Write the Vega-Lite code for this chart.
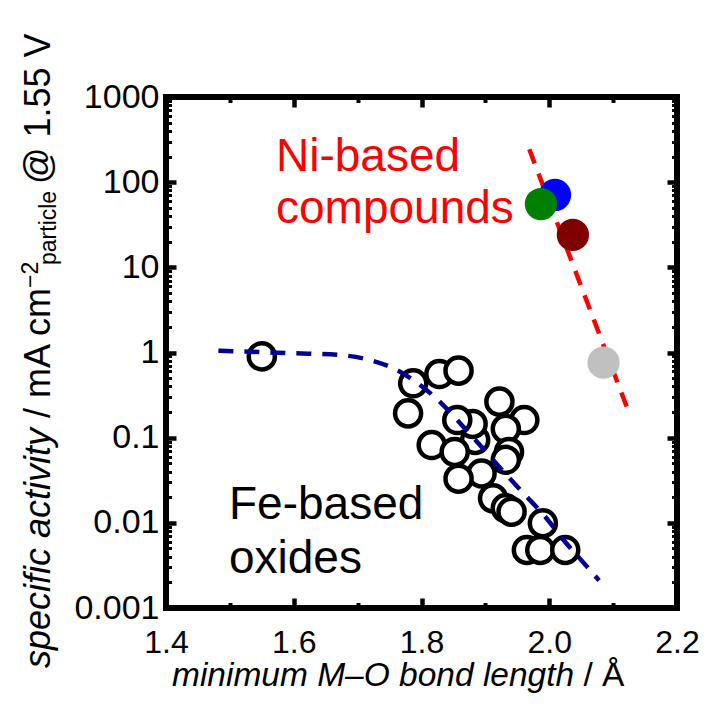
{
  "$schema": "https://vega.github.io/schema/vega-lite/v6.json",
  "width": 511,
  "height": 511,
  "autosize": {"type": "none"},
  "padding": {"left": 166, "top": 97, "right": 30, "bottom": 97},
  "background": "white",
  "config": {
    "view": {"stroke": "black", "strokeWidth": 6},
    "font": "Liberation Sans",
    "axis": {"domain": false, "grid": false, "tickColor": "black", "labelColor": "black", "labelFont": "Liberation Sans", "labelFontSize": 32, "labelFlush": false, "labelOverlap": false}
  },
  "datasets": {
    "fe": [
      {"x": 1.55, "y": 0.9},
      {"x": 1.884, "y": 0.094},
      {"x": 1.787, "y": 0.435},
      {"x": 1.828, "y": 0.559},
      {"x": 1.858, "y": 0.612},
      {"x": 1.779, "y": 0.193},
      {"x": 1.922, "y": 0.265},
      {"x": 1.961, "y": 0.161},
      {"x": 1.880, "y": 0.145},
      {"x": 1.856, "y": 0.161},
      {"x": 1.932, "y": 0.127},
      {"x": 1.816, "y": 0.082},
      {"x": 1.852, "y": 0.068},
      {"x": 1.937, "y": 0.068},
      {"x": 1.932, "y": 0.055},
      {"x": 1.894, "y": 0.038},
      {"x": 1.858, "y": 0.033},
      {"x": 1.912, "y": 0.0194},
      {"x": 1.932, "y": 0.0149},
      {"x": 1.941, "y": 0.0135},
      {"x": 1.990, "y": 0.0099},
      {"x": 1.965, "y": 0.0048},
      {"x": 1.986, "y": 0.0048},
      {"x": 2.025, "y": 0.0048}
    ],
    "ni": [
      {"sample": "Ni-1", "x": 2.009, "y": 70.7},
      {"sample": "Ni-2", "x": 1.987, "y": 55.4},
      {"sample": "Ni-3", "x": 2.037, "y": 24.0},
      {"sample": "Ni-4", "x": 2.085, "y": 0.76}
    ],
    "feFit": [
      {"x": 1.482, "y": 1.05},
      {"x": 1.518, "y": 1.03},
      {"x": 1.600, "y": 0.98},
      {"x": 1.671, "y": 0.935},
      {"x": 1.718, "y": 0.82},
      {"x": 1.759, "y": 0.635},
      {"x": 1.797, "y": 0.42},
      {"x": 1.832, "y": 0.25},
      {"x": 1.864, "y": 0.138},
      {"x": 1.896, "y": 0.075},
      {"x": 1.927, "y": 0.041},
      {"x": 1.959, "y": 0.0225},
      {"x": 1.994, "y": 0.0117},
      {"x": 2.023, "y": 0.0062},
      {"x": 2.048, "y": 0.0038},
      {"x": 2.078, "y": 0.0021}
    ],
    "niFit": [
      {"x": 1.9688, "y": 243},
      {"x": 2.1228, "y": 0.2155}
    ],
    "notes": [
      {"group": "Ni", "text": "Ni-based", "x": 1.5722, "y": 133.8},
      {"group": "Ni", "text": "compounds", "x": 1.5722, "y": 32.8},
      {"group": "Fe", "text": "Fe-based", "x": 1.4986, "y": 0.011},
      {"group": "Fe", "text": "oxides", "x": 1.4986, "y": 0.002577}
    ],
    "titles": [
      {"part": "xi", "text": "minimum M–O bond length", "x": 1.4094, "y": 0.0001215},
      {"part": "xu", "text": "/ Å", "x": 2.0536, "y": 0.0001215},
      {"part": "yi", "text": "specific activity", "x": 1.2184, "y": 0.0001975},
      {"part": "yu", "text": "/ mA cm", "x": 1.2184, "y": 0.1702},
      {"part": "yu", "text": "@ 1.55 V", "x": 1.2184, "y": 95.1},
      {"part": "ysup", "text": "−2", "x": 1.1996, "y": 5.717},
      {"part": "ysub", "text": "particle", "x": 1.2278, "y": 10.65}
    ]
  },
  "resolve": {"scale": {"x": "shared", "y": "shared"}, "axis": {"x": "independent", "y": "independent"}},
  "layer": [
    {
      "data": {"name": "niFit"},
      "mark": {"type": "line", "color": "#ff0000", "strokeWidth": 4.5, "strokeDash": [15, 11]},
      "encoding": {
        "x": {"field": "x", "type": "quantitative", "scale": {"domain": [1.4, 2.2], "nice": false, "zero": false},
              "axis": {"orient": "bottom", "title": null, "values": [1.4, 1.6, 1.8, 2.0, 2.2], "format": ".1f", "tickSize": -10, "tickWidth": 4.5, "labelPadding": 29}},
        "y": {"field": "y", "type": "quantitative", "scale": {"type": "log", "domain": [0.001, 1000], "nice": false},
              "axis": {"orient": "left", "title": null, "values": [0.001, 0.01, 0.1, 1, 10, 100, 1000], "format": "~g", "tickSize": -10, "tickWidth": 4.5, "labelPadding": 17, "labelFontSize": 34}}
      }
    },
    {
      "data": {"name": "ni"},
      "mark": {"type": "circle", "size": 1040, "opacity": 1},
      "encoding": {
        "x": {"field": "x", "type": "quantitative", "scale": {"domain": [1.4, 2.2], "nice": false, "zero": false},
              "axis": {"orient": "top", "title": null, "values": [1.4, 1.6, 1.8, 2.0, 2.2], "labels": false, "tickSize": -10, "tickWidth": 4.5}},
        "y": {"field": "y", "type": "quantitative", "scale": {"type": "log", "domain": [0.001, 1000], "nice": false},
              "axis": {"orient": "right", "title": null, "values": [0.001, 0.01, 0.1, 1, 10, 100, 1000], "labels": false, "tickSize": -10, "tickWidth": 4.5}},
        "color": {"field": "sample", "type": "nominal", "legend": null,
                  "scale": {"domain": ["Ni-1", "Ni-2", "Ni-3", "Ni-4"], "range": ["#0000ff", "#008000", "#800000", "#c0c0c0"]}}
      }
    },
    {
      "data": {"name": "fe"},
      "mark": {"type": "circle", "size": 680, "fill": "white", "stroke": "black", "strokeWidth": 4.5, "opacity": 1},
      "encoding": {
        "x": {"field": "x", "type": "quantitative", "scale": {"domain": [1.4, 2.2], "nice": false, "zero": false},
              "axis": {"orient": "bottom", "title": null, "values": [1.5, 1.7, 1.9, 2.1], "labels": false, "tickSize": -5.5, "tickWidth": 4}},
        "y": {"field": "y", "type": "quantitative", "scale": {"type": "log", "domain": [0.001, 1000], "nice": false},
              "axis": {"orient": "left", "title": null, "values": [0.002, 0.003, 0.004, 0.005, 0.006, 0.007, 0.008, 0.009, 0.02, 0.03, 0.04, 0.05, 0.06, 0.07, 0.08, 0.09, 0.2, 0.3, 0.4, 0.5, 0.6, 0.7, 0.8, 0.9, 2, 3, 4, 5, 6, 7, 8, 9, 20, 30, 40, 50, 60, 70, 80, 90, 200, 300, 400, 500, 600, 700, 800, 900], "labels": false, "tickSize": -5.5, "tickWidth": 3}}
      }
    },
    {
      "data": {"name": "feFit"},
      "mark": {"type": "line", "color": "#000099", "strokeWidth": 4.5, "strokeDash": [15, 11], "interpolate": "monotone"},
      "encoding": {
        "x": {"field": "x", "type": "quantitative", "scale": {"domain": [1.4, 2.2], "nice": false, "zero": false},
              "axis": {"orient": "top", "title": null, "values": [1.5, 1.7, 1.9, 2.1], "labels": false, "tickSize": -5.5, "tickWidth": 4}},
        "y": {"field": "y", "type": "quantitative", "scale": {"type": "log", "domain": [0.001, 1000], "nice": false},
              "axis": {"orient": "right", "title": null, "values": [0.002, 0.003, 0.004, 0.005, 0.006, 0.007, 0.008, 0.009, 0.02, 0.03, 0.04, 0.05, 0.06, 0.07, 0.08, 0.09, 0.2, 0.3, 0.4, 0.5, 0.6, 0.7, 0.8, 0.9, 2, 3, 4, 5, 6, 7, 8, 9, 20, 30, 40, 50, 60, 70, 80, 90, 200, 300, 400, 500, 600, 700, 800, 900], "labels": false, "tickSize": -5.5, "tickWidth": 3}}
      }
    },
    {
      "data": {"name": "notes"},
      "transform": [{"filter": "datum.group === 'Ni'"}],
      "mark": {"type": "text", "align": "left", "baseline": "alphabetic", "fontSize": 46, "font": "Liberation Sans", "color": "#ff0000"},
      "encoding": {
        "x": {"field": "x", "type": "quantitative", "scale": {"domain": [1.4, 2.2], "nice": false, "zero": false}, "axis": null},
        "y": {"field": "y", "type": "quantitative", "scale": {"type": "log", "domain": [0.001, 1000], "nice": false}, "axis": null},
        "text": {"field": "text"}
      }
    },
    {
      "data": {"name": "notes"},
      "transform": [{"filter": "datum.group === 'Fe'"}],
      "mark": {"type": "text", "align": "left", "baseline": "alphabetic", "fontSize": 46, "font": "Liberation Sans", "color": "black"},
      "encoding": {
        "x": {"field": "x", "type": "quantitative", "scale": {"domain": [1.4, 2.2], "nice": false, "zero": false}, "axis": null},
        "y": {"field": "y", "type": "quantitative", "scale": {"type": "log", "domain": [0.001, 1000], "nice": false}, "axis": null},
        "text": {"field": "text"}
      }
    },
    {
      "data": {"name": "titles"},
      "transform": [{"filter": "datum.part === 'xi'"}],
      "mark": {"type": "text", "align": "left", "baseline": "alphabetic", "fontSize": 33.5, "fontStyle": "italic", "font": "Liberation Sans", "color": "black"},
      "encoding": {
        "x": {"field": "x", "type": "quantitative", "scale": {"domain": [1.4, 2.2], "nice": false, "zero": false}, "axis": null},
        "y": {"field": "y", "type": "quantitative", "scale": {"type": "log", "domain": [0.001, 1000], "nice": false}, "axis": null},
        "text": {"field": "text"}
      }
    },
    {
      "data": {"name": "titles"},
      "transform": [{"filter": "datum.part === 'xu'"}],
      "mark": {"type": "text", "align": "left", "baseline": "alphabetic", "fontSize": 33.5, "font": "Liberation Sans", "color": "black"},
      "encoding": {
        "x": {"field": "x", "type": "quantitative", "scale": {"domain": [1.4, 2.2], "nice": false, "zero": false}, "axis": null},
        "y": {"field": "y", "type": "quantitative", "scale": {"type": "log", "domain": [0.001, 1000], "nice": false}, "axis": null},
        "text": {"field": "text"}
      }
    },
    {
      "data": {"name": "titles"},
      "transform": [{"filter": "datum.part === 'yi'"}],
      "mark": {"type": "text", "align": "left", "baseline": "alphabetic", "angle": 270, "fontSize": 36, "fontStyle": "italic", "font": "Liberation Sans", "color": "black"},
      "encoding": {
        "x": {"field": "x", "type": "quantitative", "scale": {"domain": [1.4, 2.2], "nice": false, "zero": false}, "axis": null},
        "y": {"field": "y", "type": "quantitative", "scale": {"type": "log", "domain": [0.001, 1000], "nice": false}, "axis": null},
        "text": {"field": "text"}
      }
    },
    {
      "data": {"name": "titles"},
      "transform": [{"filter": "datum.part === 'yu'"}],
      "mark": {"type": "text", "align": "left", "baseline": "alphabetic", "angle": 270, "fontSize": 36, "font": "Liberation Sans", "color": "black"},
      "encoding": {
        "x": {"field": "x", "type": "quantitative", "scale": {"domain": [1.4, 2.2], "nice": false, "zero": false}, "axis": null},
        "y": {"field": "y", "type": "quantitative", "scale": {"type": "log", "domain": [0.001, 1000], "nice": false}, "axis": null},
        "text": {"field": "text"}
      }
    },
    {
      "data": {"name": "titles"},
      "transform": [{"filter": "datum.part === 'ysup' || datum.part === 'ysub'"}],
      "mark": {"type": "text", "align": "left", "baseline": "alphabetic", "angle": 270, "fontSize": 23, "font": "Liberation Sans", "color": "black"},
      "encoding": {
        "x": {"field": "x", "type": "quantitative", "scale": {"domain": [1.4, 2.2], "nice": false, "zero": false}, "axis": null},
        "y": {"field": "y", "type": "quantitative", "scale": {"type": "log", "domain": [0.001, 1000], "nice": false}, "axis": null},
        "text": {"field": "text"}
      }
    }
  ]
}
